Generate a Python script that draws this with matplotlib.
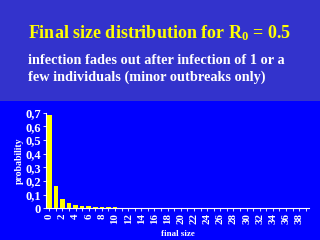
import matplotlib
matplotlib.use("Agg")
import matplotlib.pyplot as plt
from matplotlib.patches import Rectangle
import numpy as np

# ==========================================
# data
# ==========================================
final_size = list(range(40))
probability = [0.680, 0.163, 0.067, 0.039, 0.027, 0.019, 0.014, 0.010, 0.008, 0.007,
               0.006, 0.004, 0.003, 0.002, 0.002, 0.001] + [0.0] * 24
y_ticks = [0, 0.1, 0.2, 0.3, 0.4, 0.5, 0.6, 0.7]
y_tick_labels = ['0', '0,1', '0,2', '0,3', '0,4', '0,5', '0,6', '0,7']

title_text = 'Final size distribution for R$_0$ = 0.5'
subtitle_lines = ['infection fades out after infection of 1 or a',
                  'few individuals (minor outbreaks only)']

SLIDE_BG = '#3333cc'
PLOT_BG = '#0000ff'
BAR_COLOR = '#ffff00'

plt.rcParams['font.family'] = 'Liberation Serif'
plt.rcParams['font.weight'] = 'bold'
plt.rcParams['mathtext.fontset'] = 'custom'
plt.rcParams['mathtext.rm'] = 'Liberation Serif:bold'
plt.rcParams['mathtext.it'] = 'Liberation Serif:bold'
plt.rcParams['mathtext.bf'] = 'Liberation Serif:bold'

fig = plt.figure(figsize=(3.2, 2.4), dpi=100)
fig.patch.set_facecolor(SLIDE_BG)

# lower (pure blue) panel of the slide
fig.patches.append(Rectangle((0, 0), 1, 139 / 240, transform=fig.transFigure,
                             facecolor=PLOT_BG, edgecolor='none', zorder=-5))

fig.text(0.5, 1 - 33 / 240, title_text, color=BAR_COLOR, fontsize=13,
         fontweight='bold', ha='center', va='center')
fig.text(28 / 320, 1 - 60 / 240, subtitle_lines[0], color='white', fontsize=10.3,
         fontweight='bold', ha='left', va='center')
fig.text(28 / 320, 1 - 77 / 240, subtitle_lines[1], color='white', fontsize=10.3,
         fontweight='bold', ha='left', va='center')

ax = fig.add_axes([46 / 320, 31.7 / 240, 263 / 320, 95.6 / 240])
ax.set_zorder(2)
ax.set_facecolor('none')
ax.bar(final_size, probability, width=0.7, color=BAR_COLOR, edgecolor='none')

ax.set_xlim(-0.5, 39.5)
ax.set_ylim(0, 0.7)
ax.set_xticks(final_size)
ax.set_xticklabels([str(v) if v % 2 == 0 else '' for v in final_size],
                   rotation=90, fontsize=7.8, color='white', fontweight='bold')
ax.set_yticks(y_ticks)
ax.set_yticklabels(y_tick_labels, fontsize=9, color='white', fontweight='bold')
ax.tick_params(axis='both', colors='white', length=2, width=0.6, pad=1.5)

for side in ['top', 'right']:
    ax.spines[side].set_visible(False)
for side in ['left', 'bottom']:
    ax.spines[side].set_color('white')
    ax.spines[side].set_linewidth(0.8)

ax.set_ylabel('probability', color='white', fontsize=7, fontweight='bold', labelpad=1)
ax.set_xlabel('final size', color='white', fontsize=6.5, fontweight='bold', labelpad=4)

fig.savefig('out.png', dpi=100, facecolor=fig.get_facecolor())
plt.close(fig)
